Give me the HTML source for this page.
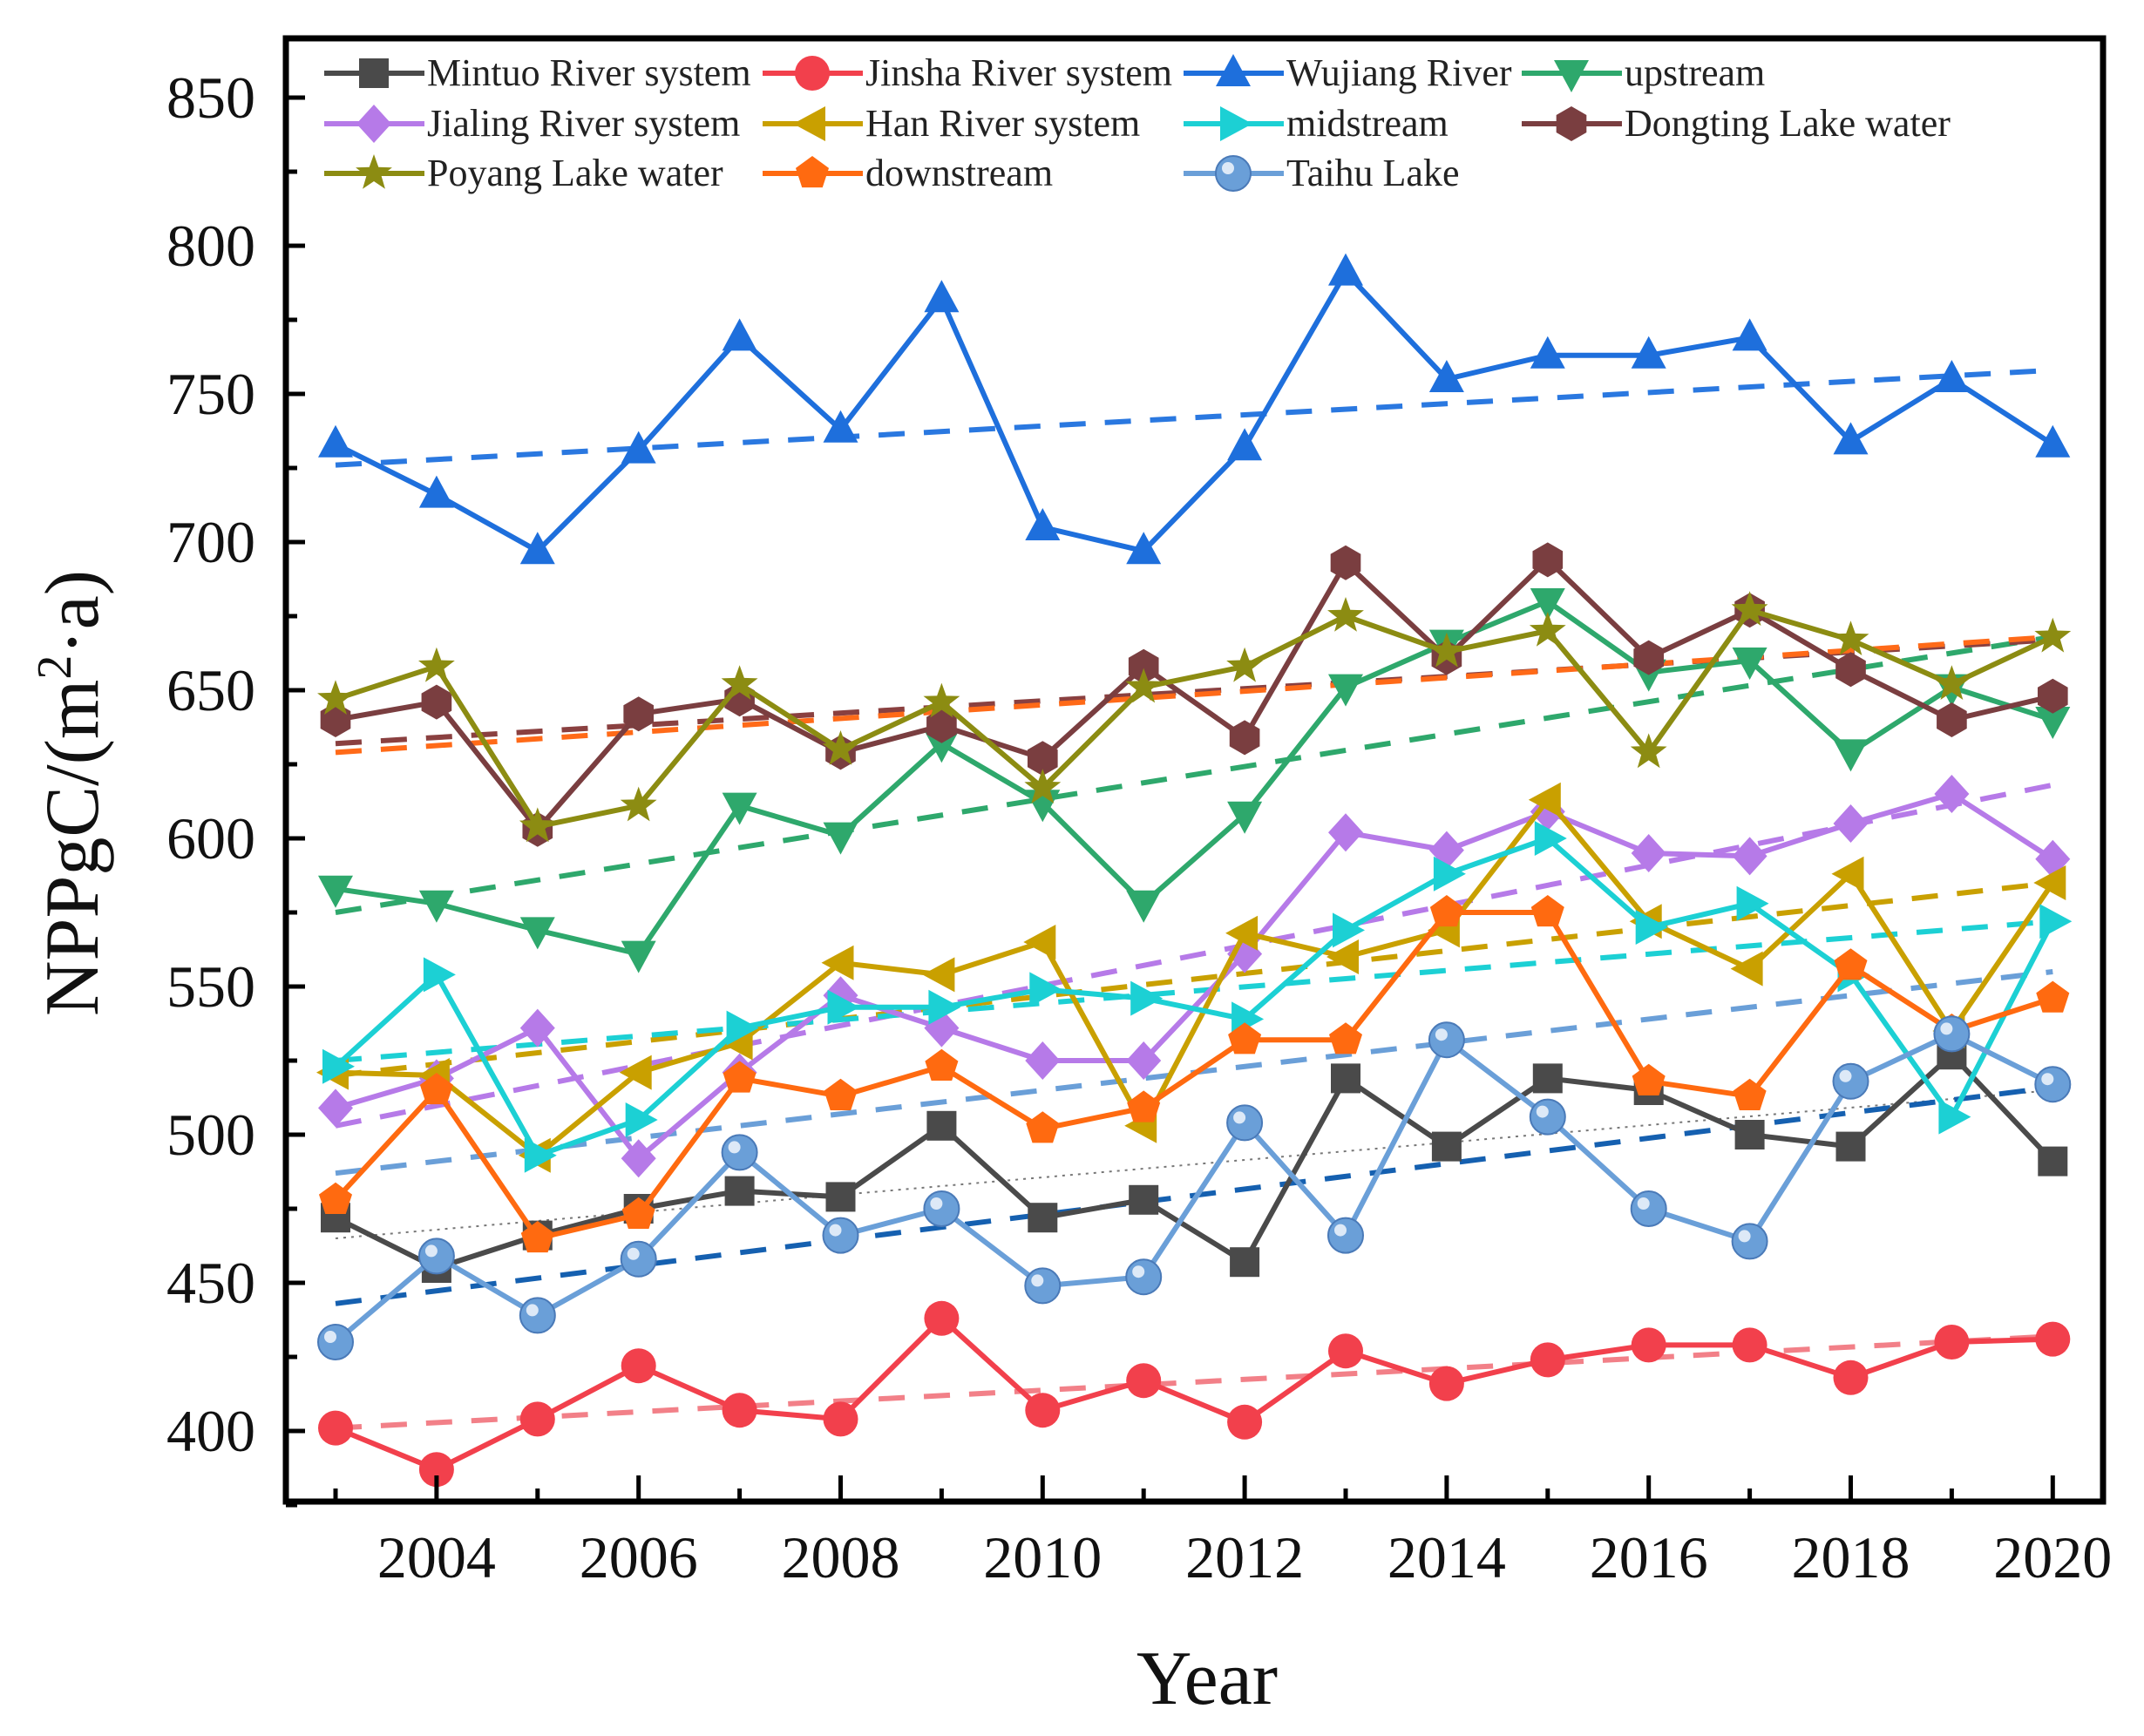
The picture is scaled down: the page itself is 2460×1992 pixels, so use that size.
<!DOCTYPE html>
<html><head><meta charset="utf-8"><style>
html,body{margin:0;padding:0;background:#fff;}
svg text{font-family:"Liberation Serif",serif;}
</style></head><body>
<svg id="chart" width="2460" height="1987" viewBox="0 0 2460 1987" xmlns="http://www.w3.org/2000/svg">
<g id="plot"></g>
<g id="axes"></g>
<g id="legend"></g>
</svg>
<script>
const years=[2003,2004,2005,2006,2007,2008,2009,2010,2011,2012,2013,2014,2015,2016,2017,2018,2019,2020];
const yTicks=[400,450,500,550,600,650,700,750,800,850];
const xTickLabels=[2004,2006,2008,2010,2012,2014,2016,2018,2020];
const mintuo=[472,455,466,475,481,479,503,472,478,457,519,496,519,515,500,496,527,491];
const jinsha=[401,387,404,422,407,404,438,407,417,403,427,416,424,429,429,418,430,431];
const wujiang=[733,716,697,731,769,738,782,705,697,732,791,755,763,763,769,734,755,733];
const upstream=[583,578,569,561,611,601,632,612,578,608,651,666,680,656,660,629,651,640];
const jialing=[509,519,536,492,521,547,536,525,525,561,602,596,609,595,594,605,615,593];
const han=[521,520,493,521,531,558,554,565,503,568,560,569,613,572,556,588,535,585];
const midstream=[523,554,493,505,536,543,543,549,546,539,569,588,600,570,578,554,506,572];
const dongting=[640,646,603,642,647,629,638,627,658,634,693,661,694,661,677,657,640,648];
const poyang=[647,658,604,611,652,630,646,617,651,658,675,663,670,629,677,667,652,668];
const downstream=[478,515,465,473,519,513,523,502,509,532,532,575,575,518,513,557,535,546];
const taihu=[430,459,439,458,494,466,475,449,452,504,466,532,506,475,464,518,534,517];
const trendStart=[465,401,726,575,503,520,525,632,629,443,487];
const trendEnd=[515,432,758,668,618,585,572,667,668,516,555];

const NS='http://www.w3.org/2000/svg';
const L=328,R=2413,T=44,B=1723;
function xs(y){return 385+(y-2003)*115.9;}
function ys(v){return 112+(850-v)*3.4;}
function mk(tag,attrs,parent){const e=document.createElementNS(NS,tag);for(const k in attrs)e.setAttribute(k,attrs[k]);parent.appendChild(e);return e;}
const plot=document.getElementById('plot'),axes=document.getElementById('axes'),legend=document.getElementById('legend');

const series=[
 {name:'Mintuo River system',d:mintuo,c:'#4a4a4a',m:'square',tc:'#777',tdash:'3 6',tw:2},
 {name:'Jinsha River system',d:jinsha,c:'#f2404c',m:'circle',tc:'#f28088',tdash:'30 22',tw:6},
 {name:'Wujiang River',d:wujiang,c:'#1e6fdc',m:'tri-up',tc:'#2a78e0',tdash:'30 22',tw:6},
 {name:'upstream',d:upstream,c:'#2ea86c',m:'tri-down',tc:'#2ea86c',tdash:'30 22',tw:6},
 {name:'Jialing River system',d:jialing,c:'#b67ae8',m:'diamond',tc:'#b67ae8',tdash:'30 22',tw:6},
 {name:'Han River system',d:han,c:'#c9a000',m:'tri-left',tc:'#c9a000',tdash:'30 22',tw:6},
 {name:'midstream',d:midstream,c:'#1cd0d4',m:'tri-right',tc:'#1cd0d4',tdash:'30 22',tw:6},
 {name:'Dongting Lake water',d:dongting,c:'#7a3e40',m:'hexagon',tc:'#8a4040',tdash:'30 22',tw:6},
 {name:'Poyang Lake water',d:poyang,c:'#8c8c12',m:'star',tc:'#ff6a18',tdash:'30 22',tw:6},
 {name:'downstream',d:downstream,c:'#ff6a10',m:'pentagon',tc:'#1560b0',tdash:'30 22',tw:6},
 {name:'Taihu Lake',d:taihu,c:'#6a9fd8',m:'ball',tc:'#6a9fd8',tdash:'30 22',tw:6}
];
const slugs=['mintuo','jinsha','wujiang','upstream','jialing','han','midstream','dongting','poyang','downstream','taihu'];

function marker(type,cx,cy,s,color,parent){
 let e,p;const r=s/2;
 if(type==='square')e=mk('rect',{x:cx-r*0.85,y:cy-r*0.85,width:r*1.7,height:r*1.7,fill:color},parent);
 else if(type==='circle')e=mk('circle',{cx:cx,cy:cy,r:r,fill:color},parent);
 else if(type==='ball'){e=mk('circle',{cx:cx,cy:cy,r:r,fill:color,stroke:'#4a7ab8','stroke-width':2},parent);mk('circle',{cx:cx-r*0.3,cy:cy-r*0.3,r:r*0.35,fill:'#dde9f7'},parent);}
 else{
  if(type==='tri-up')p=[[0,-1.1],[1,0.75],[-1,0.75]];
  else if(type==='tri-down')p=[[0,1.1],[1,-0.75],[-1,-0.75]];
  else if(type==='tri-left')p=[[-1.1,0],[0.75,-1],[0.75,1]];
  else if(type==='tri-right')p=[[1.1,0],[-0.75,-1],[-0.75,1]];
  else if(type==='diamond')p=[[0,-1.1],[1,0],[0,1.1],[-1,0]];
  else if(type==='hexagon'){p=[];for(let i=0;i<6;i++){const a=Math.PI/6+i*Math.PI/3;p.push([Math.cos(a),Math.sin(a)]);}}
  else if(type==='pentagon'){p=[];for(let i=0;i<5;i++){const a=-Math.PI/2+i*2*Math.PI/5;p.push([Math.cos(a),Math.sin(a)]);}}
  else if(type==='star'){p=[];for(let i=0;i<10;i++){const a=-Math.PI/2+i*Math.PI/5;const rr=i%2?0.45:1.1;p.push([rr*Math.cos(a),rr*Math.sin(a)]);}}
  e=mk('polygon',{points:p.map(q=>(cx+q[0]*r)+','+(cy+q[1]*r)).join(' '),fill:color},parent);
 }
 return e;
}

series.forEach((s,i)=>{
 const t=mk('line',{x1:xs(years[0]),y1:ys(trendStart[i]),x2:xs(years[years.length-1]),y2:ys(trendEnd[i]),stroke:s.tc,'stroke-width':s.tw,'stroke-dasharray':s.tdash},plot);
 
 
});
series.forEach((s,i)=>{
 const g=mk('g',{},plot);
 
 
 const pl=mk('polyline',{points:s.d.map((v,j)=>xs(years[j])+','+ys(v)).join(' '),fill:'none',stroke:s.c,'stroke-width':6,'stroke-linejoin':'round'},g);
 
 
 s.d.forEach((v,j)=>{
  const m=marker(s.m,xs(years[j]),ys(v),40,s.c,g);
  
  
 });
});
const fr=mk('rect',{x:L,y:T,width:R-L,height:B-T,fill:'none',stroke:'#000','stroke-width':7},axes);


yTicks.forEach(v=>{
 const y=ys(v);
 mk('line',{x1:L,y1:y,x2:L+22,y2:y,stroke:'#000','stroke-width':5},axes);
 mk('line',{x1:L,y1:y+85,x2:L+13,y2:y+85,stroke:'#000','stroke-width':5},axes);
 const t=mk('text',{x:L-35,y:y+23,'text-anchor':'end','font-size':68,fill:'#111'},axes);
 t.textContent=v;
 
 
});
years.forEach(yr=>{
 const x=xs(yr);const major=(yr%2===0);
 mk('line',{x1:x,y1:B,x2:x,y2:B-(major?30:15),stroke:'#000','stroke-width':5},axes);
});
xTickLabels.forEach(yr=>{
 const t=mk('text',{x:xs(yr),y:1810,'text-anchor':'middle','font-size':68,fill:'#111'},axes);
 t.textContent=yr;
 
 
});
const xt=mk('text',{x:1385,y:1955,'text-anchor':'middle','font-size':88,fill:'#111'},axes);
xt.textContent='Year';


const yt=mk('text',{x:0,y:0,'text-anchor':'middle','font-size':88,fill:'#111',transform:'translate(112,910) rotate(-90)'},axes);
yt.innerHTML='NPPgC/(m<tspan baseline-shift="super" font-size="56">2</tspan>·a)';


const lx=[377,880,1363,1751],ly=[84,142,199];
series.forEach((s,i)=>{
 const col=i%4,row=Math.floor(i/4);
 const g=mk('g',{},legend);
 
 
 const x=lx[col],y=ly[row];
 mk('line',{x1:x-5,y1:y,x2:x+110,y2:y,stroke:s.c,'stroke-width':6},g);
 marker(s.m,x+52,y,40,s.c,g);
 const t=mk('text',{x:x+113,y:y+14,'font-size':44,fill:'#222'},g);
 t.textContent=s.name;
});
</script>
</body></html>
